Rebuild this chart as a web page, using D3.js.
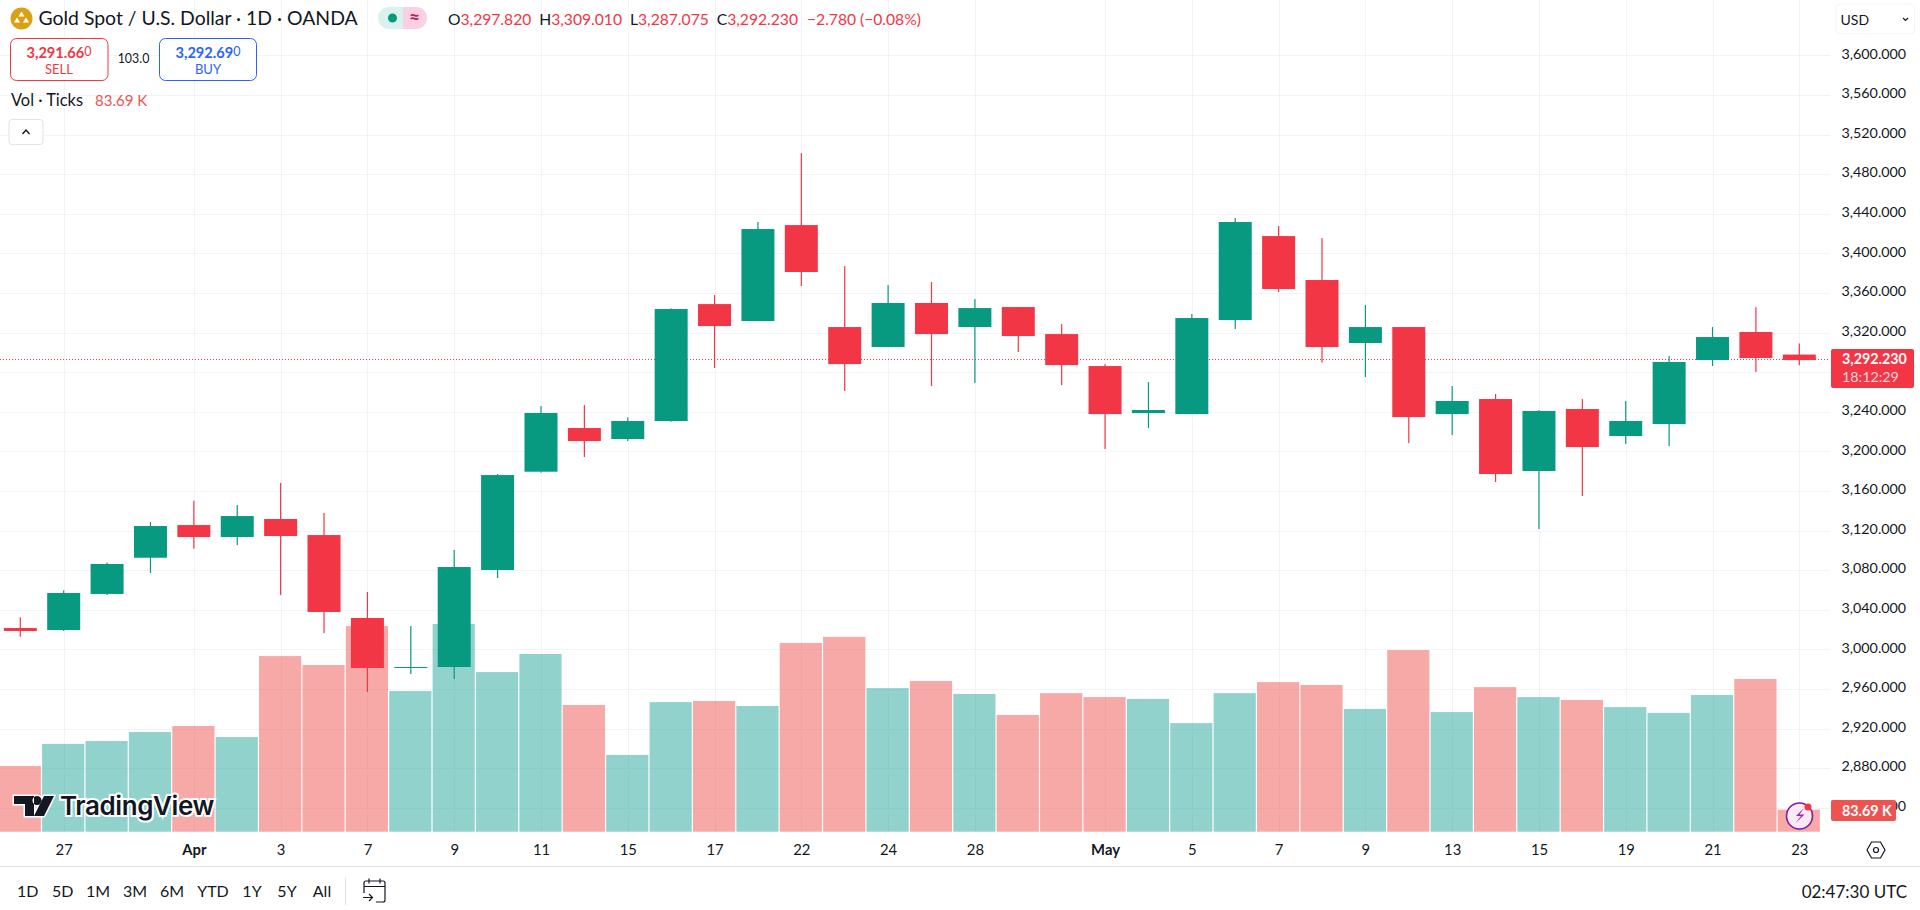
<!DOCTYPE html>
<html>
<head>
<meta charset="utf-8">
<script src="https://cdnjs.cloudflare.com/ajax/libs/d3/7.8.5/d3.min.js"></script>
<style>
html, body { margin: 0; padding: 0; background: #fff; overflow: hidden; }
svg { display: block; }
text { font-family: Lato, "Noto Sans", sans-serif; fill: #131722; }
</style>
</head>
<body>
<svg id="chart" width="1920" height="910"></svg>
<script>
const dates = ['03-26','03-27','03-28','03-31','04-01','04-02','04-03','04-04','04-07','04-08','04-09','04-10','04-11','04-14','04-15','04-16','04-17','04-21','04-22','04-23','04-24','04-25','04-28','04-29','04-30','05-01','05-02','05-05','05-06','05-07','05-08','05-09','05-12','05-13','05-14','05-15','05-16','05-19','05-20','05-21','05-22','05-23'];
const opens = [3021.6,3019.6,3056,3092.6,3125.6,3113.5,3131.7,3115.5,3031.7,2981.2,2982.2,3080.2,3179.5,3223.6,3212.5,3230.7,3348.8,3331.7,3428.6,3325.6,3305.4,3349.9,3325.6,3345.8,3318.5,3286.2,3238.7,3237.7,3332.7,3417.5,3373.1,3309.5,3325.6,3237.7,3252.9,3180.2,3242.8,3215.5,3227.6,3292.3,3320.6,3297.82];
const highs = [3032.4,3059.6,3087.6,3128.7,3150.2,3145.8,3168.1,3137.8,3058,3023.6,3100.4,3177.2,3245.8,3246.8,3234.4,3344.5,3357.9,3431.7,3501.4,3387.2,3368,3371,3353.9,3345.8,3328.6,3288.2,3270,3338.7,3435.7,3427.6,3415.5,3347.9,3325.6,3266,3258,3241.8,3252.9,3250.9,3296.3,3325.6,3345.8,3309.01];
const lows = [3012.8,3018.6,3054.9,3077.2,3101.7,3105.4,3054.9,3016.5,2957,2975.1,2970.1,3072.1,3178.5,3194.3,3210.5,3230,3284.2,3331.7,3367,3261,3305.4,3266,3269,3300.4,3267,3202.4,3223.6,3237.7,3323.6,3361,3289.6,3275.1,3208.4,3216.5,3169,3121.6,3154.9,3207.4,3205.4,3286.2,3280.2,3287.075];
const closes = [3018.6,3057,3086.3,3124.6,3113.5,3134.7,3114.5,3037.8,2981.2,2982.2,3083.2,3176.1,3238.8,3210.5,3230.7,3343.8,3326.6,3424.6,3381.2,3288.2,3349.9,3318.5,3344.8,3316.5,3287.2,3237.7,3241.8,3334.7,3431.7,3364,3305.4,3325.6,3234.7,3250.9,3177.1,3240.8,3204.4,3230.7,3290.3,3315.5,3294.3,3292.23];
const volumes = [250,334,345,379,402,360,668,634,782,535,790,607,676,482,292,493,497,478,718,741,546,573,524,444,527,512,505,413,527,569,558,467,691,455,550,512,501,474,452,520,581,83.69];
const priceTicks = [3600,3560,3520,3480,3440,3400,3360,3320,3280,3240,3200,3160,3120,3080,3040,3000,2960,2920,2880,2840];
const priceLabels = priceTicks.filter(d => d !== 3280); // 3,280 sits under the last price tag
const timeTicks = ['03-27','04-01','04-03','04-07','04-09','04-11','04-15','04-17','04-22','04-24','04-28','05-01','05-05','05-07','05-09','05-13','05-15','05-19','05-21','05-23'];
const timeLabels = ['27','Apr','3','7','9','11','15','17','22','24','28','May','5','7','9','13','15','19','21','23'];
const ranges = ['1D','5D','1M','3M','6M','YTD','1Y','5Y','All'];
const rangeX = [27.7,62.7,98,135,172,213,252,287,322];
const lastPrice = 3292.23;

const upColor = '#089981', downColor = '#f23645';
const upVol = '#26a69a', downVol = '#ef5350';
const gridColor = '#f0f3fa';

const svg = d3.select('#chart');

const x = d3.scalePoint().domain(dates).range([20.3, 1799.3]);
const y = d3.scaleLinear().domain([3600, 2840]).range([55.4, 807.8]);
const vy = d3.scaleLinear().domain([0, 790]).range([831.7, 624]);

const isUp = (i) => closes[i] >= opens[i];

// grid
const grid = svg.append('g');
grid.selectAll('line.h').data(priceTicks).enter().append('line')
    .attr('x1', 0).attr('x2', 1830)
    .attr('y1', d => Math.round(y(d)) + 0.5).attr('y2', d => Math.round(y(d)) + 0.5)
    .attr('stroke', gridColor);
grid.selectAll('line.v').data(timeTicks).enter().append('line')
    .attr('y1', 0).attr('y2', 832)
    .attr('x1', d => Math.round(x(d)) + 0.5).attr('x2', d => Math.round(x(d)) + 0.5)
    .attr('stroke', gridColor);

// volume bars
svg.append('g').selectAll('rect').data(volumes).enter().append('rect')
    .attr('x', (d, i) => x(dates[i]) - 21.6)
    .attr('width', 42.2)
    .attr('y', d => vy(d))
    .attr('height', d => vy(0) - vy(d))
    .attr('fill', (d, i) => isUp(i) ? upVol : downVol)
    .attr('fill-opacity', 0.5);

// last price line
svg.append('line')
    .attr('x1', 0).attr('x2', 1830)
    .attr('y1', Math.round(y(lastPrice)) - 0.5).attr('y2', Math.round(y(lastPrice)) - 0.5)
    .attr('stroke', downColor).attr('stroke-dasharray', '1 2');

// candles
const candles = svg.append('g').selectAll('g').data(dates).enter().append('g');
candles.append('rect')
    .attr('x', d => x(d) - 0.6)
    .attr('width', 1.2)
    .attr('y', (d, i) => y(highs[i]))
    .attr('height', (d, i) => y(lows[i]) - y(highs[i]))
    .attr('fill', (d, i) => isUp(i) ? upColor : downColor);
candles.append('rect')
    .attr('x', d => x(d) - 16.5)
    .attr('width', 33)
    .attr('y', (d, i) => y(Math.max(opens[i], closes[i])))
    .attr('height', (d, i) => Math.max(y(Math.min(opens[i], closes[i])) - y(Math.max(opens[i], closes[i])), 1))
    .attr('fill', (d, i) => isUp(i) ? upColor : downColor);

// price axis
const yAxis = d3.axisRight(y).tickValues(priceLabels).tickSize(0).tickPadding(0)
    .tickFormat(d => d3.format(',.3f')(d));
const yg = svg.append('g').attr('transform', 'translate(1841.5,0)').call(yAxis);
yg.select('.domain').remove();
yg.selectAll('text').style('font-size', '14.3px').attr('x', 0).attr('dy', '0.19em');

// time axis
const xAxis = d3.axisBottom(x).tickValues(timeTicks).tickSize(0).tickPadding(0)
    .tickFormat((d, i) => timeLabels[i]);
const xg = svg.append('g').attr('transform', 'translate(0,832)').call(xAxis);
xg.select('.domain').remove();
xg.selectAll('text')
    .style('font-size', '14.8px')
    .style('font-weight', (d, i) => /[a-z]/i.test(timeLabels[i]) ? 700 : 400)
    .attr('y', 18).attr('dy', '0.35em');
svg.append('line').attr('x1', 0).attr('x2', 1920).attr('y1', 866.5).attr('y2', 866.5).attr('stroke', '#e0e3eb');

// last price tag
svg.append('rect').attr('x', 1831).attr('y', 349).attr('width', 83).attr('height', 39).attr('rx', 2).attr('fill', downColor);
svg.append('text').attr('x', 1842).attr('y', 364).style('font-size', '14.3px').style('font-weight', 700).style('fill', '#fff').text('3,292.230');
svg.append('text').attr('x', 1842).attr('y', 382).style('font-size', '14.3px').style('fill', '#fbd5d9').text('18:12:29');

// volume tag
svg.append('rect').attr('x', 1831).attr('y', 800).attr('width', 65).attr('height', 21).attr('rx', 2).attr('fill', downVol);
svg.append('text').attr('x', 1842).attr('y', 815.5).style('font-size', '14.3px').style('font-weight', 700).style('fill', '#fff').text('83.69 K');

// currency button
svg.append('rect').attr('x', 1836).attr('y', 4).attr('width', 78.5).attr('height', 30).attr('rx', 4).attr('fill', '#fff').attr('stroke', gridColor);
svg.append('text').attr('x', 1840.5).attr('y', 25).style('font-size', '14px').text('USD');
svg.append('path').attr('d', 'M1903 18l2.5 2.5 2.5-2.5').attr('fill', 'none').attr('stroke', '#131722').attr('stroke-width', 1.2);

// header
svg.append('circle').attr('cx', 21.5).attr('cy', 18.5).attr('r', 11).attr('fill', '#d9a116');
svg.append('path').attr('d', 'M21.5 11.5l3 5h-6zM17 17.5l3 5h-6zM26 17.5l3 5h-6z').attr('fill', '#fff');
svg.append('text').attr('x', 38.5).attr('y', 25).style('font-size', '19.4px').text('Gold Spot / U.S. Dollar · 1D · OANDA');

svg.append('path').attr('d', 'M403 7h-14a11 11 0 0 0 0 22h14z').attr('fill', '#daf2ee');
svg.append('path').attr('d', 'M403 7h13a11 11 0 0 1 0 22h-13z').attr('fill', '#fbd0e2');
svg.append('circle').attr('cx', 392.5).attr('cy', 18).attr('r', 4.5).attr('fill', upColor);
svg.append('text').attr('x', 414.5).attr('y', 24).attr('text-anchor', 'middle').style('font-size', '19px').style('font-weight', 700).style('fill', '#b2245f').text('≈');

const ohlc = svg.append('text').attr('x', 448).attr('y', 24.5).style('font-size', '15.65px');
[['O', '3,297.820'], ['H', '3,309.010'], ['L', '3,287.075'], ['C', '3,292.230']].forEach((p, i) => {
    ohlc.append('tspan').attr('dx', i ? 8 : 0).text(p[0]);
    ohlc.append('tspan').style('fill', downColor).text(p[1]);
});
ohlc.append('tspan').attr('dx', 9).style('fill', downColor).text('−2.780 (−0.08%)');

// sell / buy
svg.append('rect').attr('x', 10.5).attr('y', 38.5).attr('width', 97.5).attr('height', 42).attr('rx', 6).attr('fill', '#fff').attr('stroke', downColor);
const sell = svg.append('text').attr('x', 59).attr('y', 58).attr('text-anchor', 'middle').style('font-size', '14.6px').style('fill', downColor);
sell.append('tspan').style('font-weight', 700).text('3,291.66');
sell.append('tspan').style('font-size', '12.5px').attr('dy', -2).text('0');
svg.append('text').attr('x', 59).attr('y', 74).attr('text-anchor', 'middle').style('font-size', '13px').style('fill', downColor).text('SELL');
svg.append('text').attr('x', 133.5).attr('y', 63).attr('text-anchor', 'middle').style('font-size', '12.4px').text('103.0');
svg.append('rect').attr('x', 159.5).attr('y', 38.5).attr('width', 97).attr('height', 42).attr('rx', 6).attr('fill', '#fff').attr('stroke', '#2962ff');
const buy = svg.append('text').attr('x', 208).attr('y', 58).attr('text-anchor', 'middle').style('font-size', '14.6px').style('fill', '#2962ff');
buy.append('tspan').style('font-weight', 700).text('3,292.69');
buy.append('tspan').style('font-size', '12.5px').attr('dy', -2).text('0');
svg.append('text').attr('x', 208).attr('y', 74).attr('text-anchor', 'middle').style('font-size', '13px').style('fill', '#2962ff').text('BUY');

// volume legend
svg.append('text').attr('x', 11).attr('y', 105.5).style('font-size', '16.4px').text('Vol · Ticks');
svg.append('text').attr('x', 95).attr('y', 105.5).style('font-size', '15px').style('fill', downVol).text('83.69 K');
svg.append('rect').attr('x', 9).attr('y', 119.5).attr('width', 34).attr('height', 25).attr('rx', 3).attr('fill', '#fff').attr('stroke', '#e0e3eb');
svg.append('path').attr('d', 'M22.5 134l3.5-4 3.5 4').attr('fill', 'none').attr('stroke', '#131722').attr('stroke-width', 1.4);

// logo
const logo = svg.append('g');
logo.append('path')
    .attr('d', 'M14 796h20v20h-9v-12h-11zM37 796a4.500 4.500 0 1 0 0.01 0zM44 796h10l-10 20h-10z')
    .attr('fill', '#131722').attr('stroke', '#fff').attr('stroke-width', 3).style('paint-order', 'stroke');
logo.append('text').attr('x', 60).attr('y', 815)
    .style('font-family', 'Inter').style('font-size', '26px').style('font-weight', 600).style('letter-spacing', '-0.4px')
    .style('fill', '#131722').style('stroke', '#fff').style('stroke-width', 4).style('paint-order', 'stroke').text('TradingView');

// lightning badge
svg.append('circle').attr('cx', 1799.5).attr('cy', 816).attr('r', 13).attr('fill', '#fbe9f6').attr('stroke', '#7b1fa2').attr('stroke-width', 1.6);
svg.append('path').attr('d', 'M1804 808l-8 8h5l-5.500 7 9-8.500h-5z').attr('fill', '#9c27b0');
svg.append('circle').attr('cx', 1808).attr('cy', 807).attr('r', 3.5).attr('fill', downColor);

// axis settings
svg.append('path').attr('d', 'M1867 850l4.500-8h9l4.500 8-4.500 8h-9z').attr('fill', 'none').attr('stroke', '#131722').attr('stroke-width', 1.2);
svg.append('circle').attr('cx', 1876).attr('cy', 850).attr('r', 2.5).attr('fill', 'none').attr('stroke', '#131722').attr('stroke-width', 1.2);

// bottom bar
svg.append('g').selectAll('text').data(ranges).enter().append('text')
    .attr('x', (d, i) => rangeX[i]).attr('y', 897)
    .attr('text-anchor', 'middle').style('font-size', '16px').text(d => d);
svg.append('line').attr('x1', 345.5).attr('x2', 345.5).attr('y1', 878).attr('y2', 905).attr('stroke', '#e0e3eb');
svg.append('path')
    .attr('d', 'M364 893v-10a2 2 0 0 1 2-2h17a2 2 0 0 1 2 2v17a2 2 0 0 1-2 2h-7M364 886.500h21M369 878.500v5M380 878.500v5M363 897.500h9M369 894l3.500 3.500-3.500 3.500')
    .attr('fill', 'none').attr('stroke', '#131722').attr('stroke-width', 1.2);
svg.append('text').attr('x', 1907).attr('y', 897.5).attr('text-anchor', 'end').style('font-size', '17px').text('02:47:30 UTC');
</script>
</body>
</html>
